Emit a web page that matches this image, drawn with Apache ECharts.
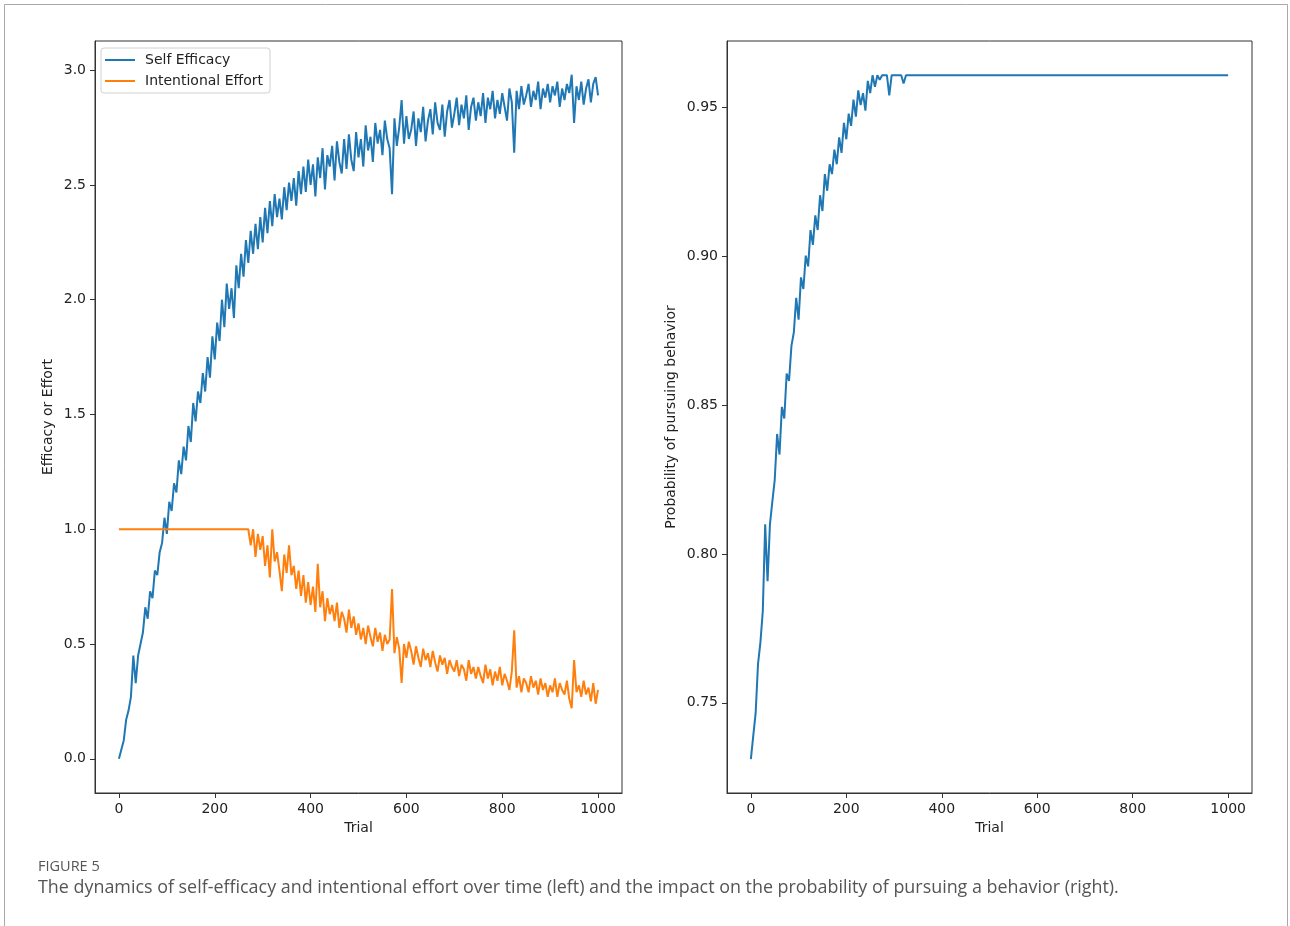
<!DOCTYPE html>
<html>
<head>
<meta charset="utf-8">
<script src="https://cdn.jsdelivr.net/npm/echarts@6/dist/echarts.min.js"></script>
<style>
html,body{margin:0;padding:0;background:#fff;}
#chart{width:1290px;height:926px;}
</style>
</head>
<body>
<div id="chart"></div>
<script>
// ---- Data ----
const TRIAL_STEP = 5; // samples every 5 trials, starting at trial 0
const xTicks = [0, 200, 400, 600, 800, 1000];
const leftYTicks = [0, 0.5, 1.0, 1.5, 2.0, 2.5, 3.0];
const rightYTicks = [0.75, 0.80, 0.85, 0.90, 0.95];
const seriesNames = ['Self Efficacy', 'Intentional Effort'];

// Self efficacy, trials 0..1000
const selfEfficacy = [
  0.00,0.04,0.08,0.17,0.21,0.27,0.45,0.33,0.45,0.50,
  0.55,0.66,0.61,0.73,0.70,0.82,0.80,0.90,0.94,1.05,
  0.98,1.12,1.08,1.20,1.16,1.30,1.24,1.36,1.30,1.45,
  1.38,1.55,1.47,1.60,1.55,1.68,1.60,1.75,1.66,1.84,
  1.74,1.90,1.82,2.00,1.88,2.07,1.96,2.05,1.92,2.15,
  2.05,2.20,2.10,2.26,2.16,2.30,2.20,2.33,2.22,2.36,
  2.25,2.40,2.29,2.43,2.32,2.46,2.36,2.44,2.35,2.49,
  2.39,2.51,2.43,2.53,2.41,2.56,2.46,2.58,2.47,2.61,
  2.50,2.59,2.45,2.62,2.53,2.66,2.48,2.63,2.58,2.67,
  2.52,2.69,2.60,2.55,2.70,2.57,2.72,2.61,2.56,2.73,
  2.62,2.70,2.58,2.76,2.65,2.71,2.60,2.77,2.68,2.74,
  2.63,2.78,2.70,2.66,2.46,2.79,2.67,2.75,2.87,2.68,
  2.80,2.70,2.74,2.82,2.67,2.79,2.73,2.84,2.69,2.78,
  2.83,2.72,2.86,2.77,2.74,2.85,2.71,2.82,2.87,2.75,
  2.81,2.88,2.76,2.85,2.79,2.89,2.74,2.84,2.88,2.78,
  2.86,2.80,2.90,2.77,2.88,2.83,2.91,2.79,2.87,2.81,
  2.90,2.84,2.78,2.92,2.86,2.64,2.91,2.83,2.93,2.85,
  2.89,2.94,2.84,2.91,2.87,2.95,2.83,2.92,2.88,2.94,
  2.86,2.93,2.89,2.95,2.84,2.92,2.87,2.94,2.90,2.98,
  2.77,2.93,2.87,2.95,2.85,2.92,2.96,2.86,2.94,2.97,
  2.89
];

// Intentional effort, trials 0..1000
const intentionalEffort = [
  1.00,1.00,1.00,1.00,1.00,1.00,1.00,1.00,1.00,1.00,
  1.00,1.00,1.00,1.00,1.00,1.00,1.00,1.00,1.00,1.00,
  1.00,1.00,1.00,1.00,1.00,1.00,1.00,1.00,1.00,1.00,
  1.00,1.00,1.00,1.00,1.00,1.00,1.00,1.00,1.00,1.00,
  1.00,1.00,1.00,1.00,1.00,1.00,1.00,1.00,1.00,1.00,
  1.00,1.00,1.00,1.00,1.00,0.93,1.00,0.88,0.98,0.91,
  0.97,0.84,0.93,0.79,1.00,0.86,0.90,0.82,0.73,0.89,
  0.81,0.93,0.80,0.84,0.74,0.82,0.71,0.80,0.68,0.77,
  0.67,0.75,0.64,0.85,0.66,0.73,0.60,0.70,0.63,0.67,
  0.60,0.68,0.57,0.64,0.61,0.55,0.65,0.57,0.62,0.54,
  0.59,0.52,0.57,0.50,0.58,0.53,0.49,0.57,0.51,0.55,
  0.47,0.54,0.50,0.52,0.74,0.46,0.53,0.48,0.33,0.50,
  0.44,0.51,0.47,0.41,0.49,0.44,0.40,0.48,0.43,0.46,
  0.40,0.47,0.42,0.38,0.45,0.41,0.44,0.37,0.43,0.40,
  0.38,0.43,0.36,0.41,0.39,0.34,0.43,0.37,0.40,0.35,
  0.40,0.36,0.33,0.41,0.35,0.39,0.32,0.38,0.34,0.40,
  0.32,0.37,0.34,0.30,0.38,0.56,0.31,0.36,0.29,0.35,
  0.33,0.29,0.36,0.31,0.34,0.28,0.35,0.30,0.33,0.27,
  0.32,0.29,0.35,0.27,0.33,0.30,0.28,0.34,0.26,0.22,
  0.43,0.29,0.32,0.27,0.34,0.28,0.31,0.25,0.33,0.24,
  0.30
];

// Probability of pursuing behavior, trials 0..330 (every 5), then flat to 1000
const probability = [
  0.7311,0.7389,0.7465,0.7631,0.7703,0.7808,0.8100,0.7908,0.8100,0.8176,
  0.8249,0.8403,0.8334,0.8494,0.8455,0.8606,0.8581,0.8699,0.8744,0.8860,
  0.8787,0.8929,0.8890,0.9002,0.8966,0.9088,0.9038,0.9137,0.9088,0.9205,
  0.9152,0.9276,0.9220,0.9309,0.9276,0.9358,0.9309,0.9399,0.9347,0.9448,
  0.9393,0.9479,0.9438,0.9526,0.9469,0.9557,0.9508,0.9548,0.9489,0.9589,
  0.9548,0.9608,0.9569,0.9608,0.9593,0.9608,0.9608,0.9608,0.9540,0.9608,
  0.9608,0.9608,0.9608,0.9608,0.9580,0.9608,0.9608
];
const probabilityEndTrial = 1000;
const probabilityEndValue = 0.9608;

// ---- Build series data ----
const seData = selfEfficacy.map((v, i) => [i * TRIAL_STEP, v]);
const efData = intentionalEffort.map((v, i) => [i * TRIAL_STEP, v]);
const pData = probability.map((v, i) => [i * TRIAL_STEP, v]);
pData.push([probabilityEndTrial, probabilityEndValue]);

const BLUE = '#1f77b4', ORANGE = '#ff7f0e';
const FONT = 'DejaVu Sans';
const AX = '#333';

function xAxisDef(gridIndex) {
  return {
    type: 'value', gridIndex, min: -50, max: 1050,
    name: 'Trial', nameLocation: 'middle', nameGap: 27,
    nameTextStyle: { fontFamily: FONT, fontSize: 14, color: '#222' },
    axisLine: { show: true, onZero: false, lineStyle: { color: AX, width: 1 } },
    axisTick: { show: true, inside: false, length: 5, customValues: xTicks, lineStyle: { color: AX } },
    axisLabel: { show: true, margin: 9, customValues: xTicks, fontFamily: FONT, fontSize: 14, color: '#222',
      formatter: v => String(v) },
    splitLine: { show: false }
  };
}
function yAxisDef(gridIndex, min, max, ticks, digits, name, gap) {
  return {
    type: 'value', gridIndex, min, max,
    name, nameLocation: 'middle', nameGap: gap, nameRotate: 90,
    nameTextStyle: { fontFamily: FONT, fontSize: 14, color: '#222' },
    axisLine: { show: true, onZero: false, lineStyle: { color: AX, width: 1 } },
    axisTick: { show: true, inside: false, length: 5, customValues: ticks, lineStyle: { color: AX } },
    axisLabel: { show: true, margin: 9, customValues: ticks, fontFamily: FONT, fontSize: 14, color: '#222',
      formatter: v => Number(v).toFixed(digits) },
    splitLine: { show: false }
  };
}

const chart = echarts.init(document.getElementById('chart'), null, { renderer: 'canvas' });
chart.setOption({
  animation: false,
  backgroundColor: '#fff',
  grid: [
    { left: 95, top: 41, width: 527, height: 752, show: true, borderColor: AX, borderWidth: 1, backgroundColor: 'transparent' },
    { left: 727, top: 41, width: 525, height: 752, show: true, borderColor: AX, borderWidth: 1, backgroundColor: 'transparent' }
  ],
  xAxis: [xAxisDef(0), xAxisDef(1)],
  yAxis: [
    yAxisDef(0, -0.149, 3.127, leftYTicks, 1, 'Efficacy or Effort', 40),
    yAxisDef(1, 0.7197, 0.9723, rightYTicks, 2, 'Probability of pursuing behavior', 49)
  ],
  legend: {
    orient: 'vertical', left: 101, top: 48,
    data: seriesNames,
    icon: 'rect', itemWidth: 30, itemHeight: 2, itemGap: 7,
    padding: [5, 7, 5, 4],
    borderColor: '#d0d0d0', borderWidth: 1, borderRadius: 3,
    backgroundColor: 'rgba(255,255,255,0.8)',
    textStyle: { fontFamily: FONT, fontSize: 14, color: '#222', padding: [0, 0, 0, 5] },
    selectedMode: false
  },
  series: [
    { name: seriesNames[0], type: 'line', xAxisIndex: 0, yAxisIndex: 0, data: seData,
      showSymbol: false, symbol: 'none', lineStyle: { color: BLUE, width: 2 }, itemStyle: { color: BLUE }, z: 2 },
    { name: seriesNames[1], type: 'line', xAxisIndex: 0, yAxisIndex: 0, data: efData,
      showSymbol: false, symbol: 'none', lineStyle: { color: ORANGE, width: 2 }, itemStyle: { color: ORANGE }, z: 3 },
    { name: 'Probability', type: 'line', xAxisIndex: 1, yAxisIndex: 1, data: pData,
      showSymbol: false, symbol: 'none', lineStyle: { color: BLUE, width: 2 }, itemStyle: { color: BLUE } }
  ],
  graphic: [
    { type: 'rect', shape: { x: 4.5, y: 4.5, width: 1283, height: 1000 },
      style: { fill: 'none', stroke: '#a8a8a8', lineWidth: 1 }, silent: true },
    { type: 'text', left: 38, top: 859,
      style: { text: 'FIGURE 5', fontFamily: 'Open Sans', fontSize: 14.5, fill: '#555' } },
    { type: 'text', left: 38, top: 879,
      style: { text: 'The dynamics of self-efficacy and intentional effort over time (left) and the impact on the probability of pursuing a behavior (right).',
        fontFamily: 'Open Sans', fontSize: 17.9, fill: '#555' } }
  ]
});
</script>
</body>
</html>
